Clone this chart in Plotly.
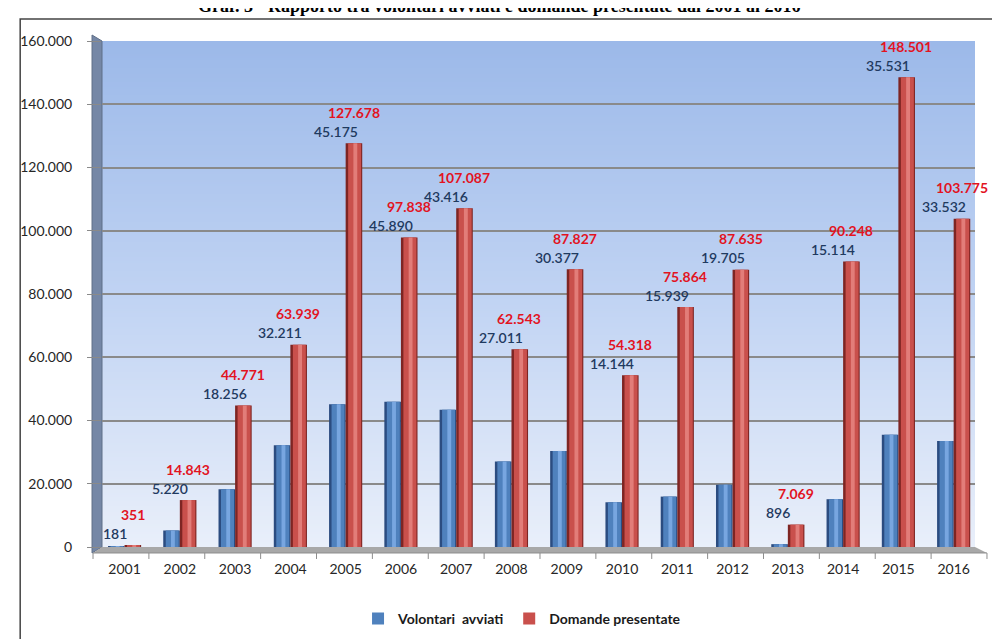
import base64
import struct
import zlib

import plotly.graph_objects as go

# ---------------- data ----------------
years = ["2001", "2002", "2003", "2004", "2005", "2006", "2007", "2008",
         "2009", "2010", "2011", "2012", "2013", "2014", "2015", "2016"]
volontari = [181, 5220, 18256, 32211, 45175, 45890, 43416, 27011,
             30377, 14144, 15939, 19705, 896, 15114, 35531, 33532]
domande = [351, 14843, 44771, 63939, 127678, 97838, 107087, 62543,
           87827, 54318, 75864, 87635, 7069, 90248, 148501, 103775]
y_ticks = [0, 20000, 40000, 60000, 80000, 100000, 120000, 140000, 160000]
series_names = ["Volontari  avviati", "Domande presentate"]
title_text = "Graf. 3 - Rapporto tra volontari avviati e domande presentate dal 2001 al 2016"

# ---------------- geometry helpers ----------------
W, H = 1000, 639
ML, MR, MT, MB = 92, 33, 33, 99
PW, PH = W - ML - MR, H - MT - MB


def px(x):
    return (x - ML) / PW


def py(y):
    return (H - MB - y) / PH


def fmt(v):
    return f"{v:,}".replace(",", ".")


# vertical gradient image for the back wall
def gradient_png(stops, h=256, w=2):
    def lerp(a, b, t):
        return int(round(a + (b - a) * t))

    raw = b""
    for r in range(h):
        t = r / (h - 1)
        for i in range(len(stops) - 1):
            p0, c0 = stops[i]
            p1, c1 = stops[i + 1]
            if p0 <= t <= p1:
                tt = (t - p0) / (p1 - p0) if p1 > p0 else 0
                col = tuple(lerp(c0[k], c1[k], tt) for k in range(3))
                break
        raw += b"\x00" + bytes(col) * w

    def chunk(tag, data):
        return (struct.pack(">I", len(data)) + tag + data +
                struct.pack(">I", zlib.crc32(tag + data) & 0xFFFFFFFF))

    png = (b"\x89PNG\r\n\x1a\n" +
           chunk(b"IHDR", struct.pack(">IIBBBBB", w, h, 8, 2, 0, 0, 0)) +
           chunk(b"IDAT", zlib.compress(raw)) + chunk(b"IEND", b""))
    return "data:image/png;base64," + base64.b64encode(png).decode()


bg_src = gradient_png([(0.0, (156, 185, 233)), (0.5, (192, 211, 243)), (1.0, (233, 239, 250))])

fig = go.Figure()

# cylinder-like bars: dark edge, main body, highlight
layers = [
    # (series index, colour, offset, width, legend)
    (0, "#2b4c80", -0.30, 0.30, False),
    (0, "#4f81bd", -0.255, 0.235, True),
    (0, "#78a6e0", -0.16, 0.07, False),
    (1, "#7e2523", 0.0, 0.30, False),
    (1, "#c9504c", 0.045, 0.235, True),
    (1, "#e27d79", 0.14, 0.07, False),
]
for s, col, off, wd, leg in layers:
    vals = volontari if s == 0 else domande
    fig.add_trace(go.Bar(
        x=years, y=vals, name=series_names[s],
        marker=dict(color=col, line=dict(width=0)),
        offset=off, width=wd, showlegend=leg,
        legendgroup=series_names[s], hoverinfo="x+y+name" if leg else "skip",
    ))

# data labels (category axis -> serial index positions)
annotations = []
for i, (v, d) in enumerate(zip(volontari, domande)):
    annotations.append(dict(xref="x", yref="y", x=i, y=d, text="<b>" + fmt(d) + "</b>",
                            showarrow=False, xshift=8, yshift=31,
                            font=dict(family="Lato", size=14, color="#e2141f")))
    annotations.append(dict(xref="x", yref="y", x=i, y=d, text=fmt(v),
                            showarrow=False, xshift=-10, yshift=12,
                            font=dict(family="Lato", size=14, color="#1f3a60", weight=600)))

# title (cut off at the top of the page, as in the original)
annotations.append(dict(xref="paper", yref="paper", x=px(490), y=py(-2), yanchor="middle",
                        text="<b>" + title_text + "</b>", showarrow=False,
                        font=dict(family="Liberation Serif", size=18, color="#000000")))

shapes = []
# left 3D wall
shapes.append(dict(type="path", xref="paper", yref="paper", layer="below",
                   path=f"M {px(82)} {py(27)} L {px(92)} {py(33)} L {px(92)} {py(540)} L {px(82)} {py(546)} Z",
                   fillcolor="#7587a6", line=dict(color="#5f6f88", width=1)))
# floor
shapes.append(dict(type="path", xref="paper", yref="paper", layer="below",
                   path=f"M {px(92)} {py(540)} L {px(967)} {py(540)} L {px(979)} {py(546)} L {px(83)} {py(546)} Z",
                   fillcolor="#a8a8a8", line=dict(width=0)))
# front x axis line and tick marks
shapes.append(dict(type="line", xref="paper", yref="paper", x0=px(83), x1=px(979), y0=py(546), y1=py(546),
                   line=dict(color="#8c8c8c", width=1)))
for k in range(len(years) + 1):
    xx = 83 + 56 * k
    shapes.append(dict(type="line", xref="paper", yref="paper", x0=px(xx), x1=px(xx), y0=py(546), y1=py(552),
                       line=dict(color="#8c8c8c", width=1)))
# outer frame
shapes.append(dict(type="rect", xref="paper", yref="paper", x0=px(10), x1=px(1010), y0=py(11), y1=py(660),
                   line=dict(color="#444444", width=1.5), fillcolor="rgba(0,0,0,0)"))

fig.update_layout(
    width=W, height=H,
    margin=dict(l=ML, r=MR, t=MT, b=MB, pad=0),
    paper_bgcolor="#ffffff",
    plot_bgcolor="rgba(0,0,0,0)",
    barmode="overlay",
    separators=",.",
    showlegend=True,
    legend=dict(orientation="h", x=px(513), y=py(612), xanchor="center", yanchor="middle",
                font=dict(family="Lato", size=14, color="#1a1a1a", weight="bold"), traceorder="normal",
                bgcolor="rgba(0,0,0,0)"),
    images=[dict(source=bg_src, xref="paper", yref="paper", x=0, y=1, sizex=1, sizey=1,
                 xanchor="left", yanchor="top", sizing="stretch", layer="below")],
    annotations=annotations,
    shapes=shapes,
    xaxis=dict(type="category", categoryorder="array", categoryarray=years,
               range=[-0.408, 15.386], showgrid=False, showline=False, ticks="",
               ticklabelstandoff=12, tickfont=dict(family="Lato", size=14, color="#262626")),
    yaxis=dict(range=[0, 160000], tickvals=y_ticks, tickformat=",d",
               showgrid=True, gridcolor="#8a8a8a", gridwidth=1.5, zeroline=False,
               showline=False, ticks="outside", ticklen=14, tickcolor="#8a8a8a", tickwidth=1,
               ticklabelstandoff=12, tickfont=dict(family="Lato", size=14, color="#262626")),
)

fig.write_html("out.html")
